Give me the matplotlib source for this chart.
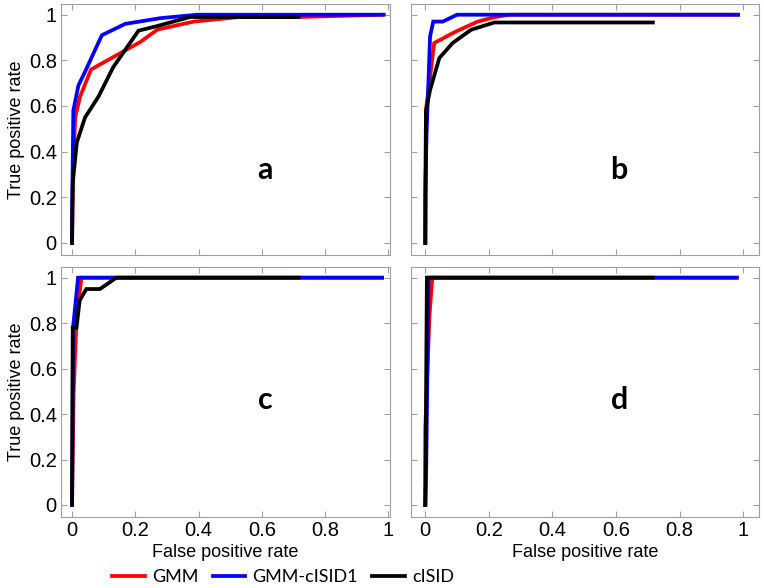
import matplotlib
matplotlib.use("Agg")
import matplotlib.pyplot as plt

plt.rcParams['font.family'] = ['Liberation Sans', 'DejaVu Sans']

# ROC curves: (false positive rate, true positive rate)
# panel a
a_gmm_x = [0, 0.003, 0.01, 0.025, 0.06, 0.215, 0.27, 0.385, 0.53, 0.72, 0.98]
a_gmm_y = [0, 0.3, 0.55, 0.64, 0.76, 0.88, 0.935, 0.97, 0.99, 0.99, 1.0]
a_blue_x = [0, 0, 0.004, 0.02, 0.041, 0.094, 0.168, 0.28, 0.395, 0.985]
a_blue_y = [0, 0.13, 0.58, 0.69, 0.75, 0.91, 0.96, 0.985, 1.0, 1.0]
a_black_x = [0, 0.002, 0.015, 0.041, 0.083, 0.13, 0.21, 0.268, 0.373, 0.716]
a_black_y = [0, 0.26, 0.44, 0.55, 0.64, 0.77, 0.93, 0.95, 0.99, 0.99]

# panel b
b_gmm_x = [0, 0.002, 0.028, 0.097, 0.165, 0.22, 0.265, 0.984]
b_gmm_y = [0, 0.58, 0.876, 0.927, 0.97, 0.99, 1.0, 1.0]
b_blue_x = [0, 0, 0.004, 0.015, 0.025, 0.055, 0.1, 0.984]
b_blue_y = [0, 0.22, 0.48, 0.905, 0.97, 0.97, 1.0, 1.0]
b_black_x = [0, 0.002, 0.015, 0.044, 0.086, 0.144, 0.217, 0.716]
b_black_y = [0, 0.58, 0.67, 0.81, 0.876, 0.934, 0.966, 0.966]

# panel c
c_gmm_x = [0, 0.005, 0.015, 0.03, 0.98]
c_gmm_y = [0, 0.5, 0.85, 1.0, 1.0]
c_blue_x = [0, 0.003, 0.019, 0.98]
c_blue_y = [0, 0.78, 1.0, 1.0]
c_black_x = [0, 0.002, 0.014, 0.024, 0.045, 0.088, 0.14, 0.716]
c_black_y = [0, 0.78, 0.78, 0.9, 0.95, 0.95, 1.0, 1.0]

# panel d
d_gmm_x = [0, 0, 0.013, 0.022, 0.98]
d_gmm_y = [0, 0.34, 0.83, 1.0, 1.0]
d_blue_x = [0, 0.003, 0.01, 0.98]
d_blue_y = [0, 0.17, 1.0, 1.0]
d_black_x = [0, 0.005, 0.716]
d_black_y = [0, 1.0, 1.0]

paneles = [
    ('a', (a_gmm_x, a_gmm_y), (a_blue_x, a_blue_y), (a_black_x, a_black_y)),
    ('b', (b_gmm_x, b_gmm_y), (b_blue_x, b_blue_y), (b_black_x, b_black_y)),
    ('c', (c_gmm_x, c_gmm_y), (c_blue_x, c_blue_y), (c_black_x, c_black_y)),
    ('d', (d_gmm_x, d_gmm_y), (d_blue_x, d_blue_y), (d_black_x, d_black_y)),
]
nombres = ['GMM', 'GMM-cISID1', 'cISID']
colores = ['#ff0000', '#0000ff', '#000000']
ticks = [0, 0.2, 0.4, 0.6, 0.8, 1]
tick_labels = ['0', '0.2', '0.4', '0.6', '0.8', '1']

W, H = 764, 588
fig = plt.figure(figsize=(W / 100, H / 100), dpi=100)

# cajas de los ejes en pixeles: izq, arriba, der, abajo
cajas = [(61, 4, 390, 255), (411, 4, 759, 255), (61, 267, 390, 517), (411, 267, 759, 517)]

for i, (letra, *curvas) in enumerate(paneles):
    l, t, r, b = cajas[i]
    ax = fig.add_axes([l / W, 1 - b / H, (r - l) / W, (b - t) / H])
    lineas = []
    for (x, y), col, nom in zip(curvas, colores, nombres):
        ln, = ax.plot(x, y, color=col, lw=2.7, label=nom, solid_joinstyle='miter')
        lineas.append(ln)
    if i % 2 == 0:
        ax.set_xlim(-0.035, 1.005)
    else:
        ax.set_xlim(-0.045, 1.05)
    ax.set_ylim(-0.053, 1.047)
    ax.set_xticks(ticks)
    ax.set_yticks(ticks)
    ax.tick_params(direction='in', top=True, right=True, length=4, color='#a0a0a0',
                   labelsize=14.5, pad=3)
    for s in ax.spines.values():
        s.set_color('#a0a0a0')
    if i < 2:
        ax.set_xticklabels([])
    else:
        ax.set_xticklabels(tick_labels)
        ax.set_xlabel('False positive rate', fontsize=13, labelpad=3)
    if i % 2 == 1:
        ax.set_yticklabels([])
    else:
        ax.set_yticklabels(tick_labels)
        ax.set_ylabel('True positive rate', fontsize=13, labelpad=3)
    ax.text(0.61, 0.32 if i < 2 else 0.46, letra, fontsize=22, fontweight='bold',
            family=['Lato', 'DejaVu Sans'], ha='center', va='center')

fig.legend(lineas, nombres, loc='center left', bbox_to_anchor=(112 / W, 1 - 577 / H),
           ncol=3, frameon=False, handlelength=1.8, handletextpad=0.4,
           columnspacing=0.8, borderaxespad=0, borderpad=0,
           prop={'family': ['Lato', 'DejaVu Sans'], 'size': 13})

fig.savefig('out.png', dpi=100)
